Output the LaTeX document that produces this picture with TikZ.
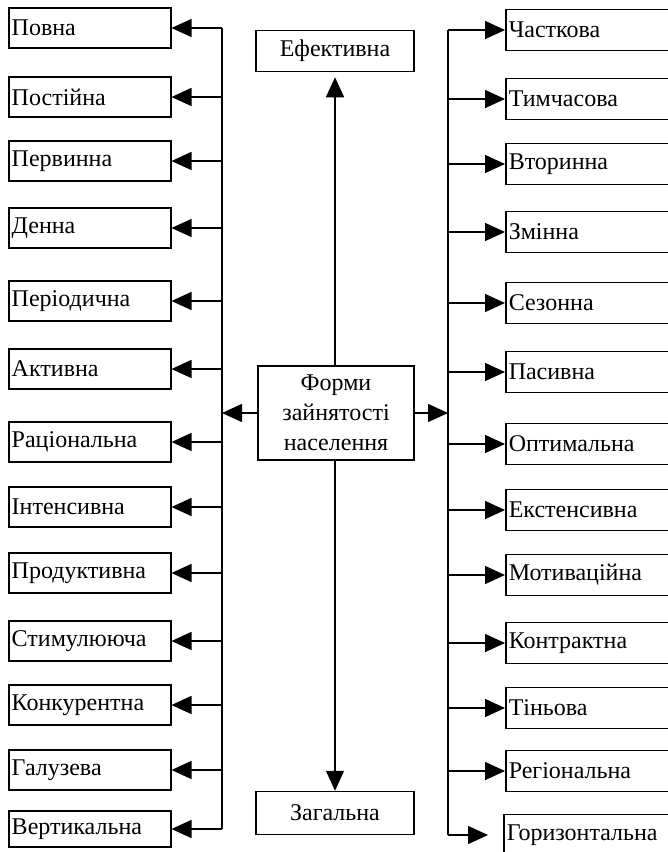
\documentclass[tikz,border=0pt]{standalone}
\usepackage{fontspec}
\setmainfont{Liberation Serif}
\usetikzlibrary{arrows.meta}
\tikzset{
  lbox/.style={draw, line width=1.5pt, anchor=west, minimum height=40pt, text width=156pt, inner xsep=3pt, align=left, font=\fontsize{24}{28}\selectfont},
  rbox/.style={draw, line width=1.5pt, anchor=west, minimum height=41pt, text width=200pt, inner xsep=3pt, align=left, font=\fontsize{24}{28}\selectfont},
  cbox/.style={draw, line width=1.5pt, minimum width=158pt, minimum height=41pt, align=center, font=\fontsize{24}{28}\selectfont},
  arr/.style={line width=1.5pt, -{Triangle[length=20pt,width=18pt]}},
  bus/.style={line width=1.5pt}
}
\begin{document}
\begin{tikzpicture}[x=1pt,y=-1pt]
\clip (0,0) rectangle (668,852);
\coordinate (lbus) at (222,0);
\coordinate (rbus) at (448,0);

\node[cbox, minimum width=156pt, minimum height=94pt, font=\fontsize{24}{30}\selectfont] (forms) at (336,413) {Форми\\зайнятості\\населення};
\node[cbox] (efekt) at (335,51) {Ефективна};
\node[cbox, minimum height=43pt] (zagal) at (335,813) {Загальна};

\node[lbox] (povna)   at (8,28)  {Повна};
\node[lbox] (postij)  at (8,97)  {Постійна};
\node[lbox] (pervyn)  at (8,161) {Первинна};
\node[lbox] (denna)   at (8,228) {Денна};
\node[lbox] (period)  at (8,301) {Періодична};
\node[lbox] (aktyv)   at (8,369) {Активна};
\node[lbox] (ratsio)  at (8,442) {Раціональна};
\node[lbox] (intens)  at (8,507) {Інтенсивна};
\node[lbox] (produk)  at (8,573) {Продуктивна};
\node[lbox] (stymul)  at (8,641) {Стимулююча};
\node[lbox] (konkur)  at (8,705) {Конкурентна};
\node[lbox] (galuz)   at (8,770) {Галузева};
\node[lbox, minimum height=36pt] (vertyk) at (8,829) {Вертикальна};

\node[rbox] (chastk)  at (505,30)  {Часткова};
\node[rbox] (tymch)   at (505,99)  {Тимчасова};
\node[rbox] (vtoryn)  at (505,164) {Вторинна};
\node[rbox] (zminna)  at (505,232) {Змінна};
\node[rbox] (sezon)   at (505,303) {Сезонна};
\node[rbox] (pasyv)   at (505,372) {Пасивна};
\node[rbox] (optym)   at (505,444) {Оптимальна};
\node[rbox] (ekst)    at (505,510) {Екстенсивна};
\node[rbox] (motyv)   at (505,575) {Мотиваційна};
\node[rbox] (kontr)   at (505,643) {Контрактна};
\node[rbox] (tinova)  at (505,708) {Тіньова};
\node[rbox] (region)  at (505,771) {Регіональна};
\node[rbox] (horyz)   at (503,835) {Горизонтальна};

\draw[arr] (forms.north -| efekt) -- ([yshift=-5pt]efekt.south);
\draw[arr] (forms.south -| zagal) -- (zagal.north);
\draw[arr] (forms.west) -- (lbus |- forms.west);
\draw[arr] (forms.east) -- (rbus |- forms.east);

\draw[bus] (lbus |- povna) -- (lbus |- vertyk);
\draw[bus] (rbus |- chastk.west) -- (rbus |- horyz.west);

\draw[arr] (lbus |- povna)  -- (povna.east);
\draw[arr] (lbus |- postij) -- (postij.east);
\draw[arr] (lbus |- pervyn) -- (pervyn.east);
\draw[arr] (lbus |- denna)  -- (denna.east);
\draw[arr] (lbus |- period) -- (period.east);
\draw[arr] (lbus |- aktyv)  -- (aktyv.east);
\draw[arr] (lbus |- ratsio) -- (ratsio.east);
\draw[arr] (lbus |- intens) -- (intens.east);
\draw[arr] (lbus |- produk) -- (produk.east);
\draw[arr] (lbus |- stymul) -- (stymul.east);
\draw[arr] (lbus |- konkur) -- (konkur.east);
\draw[arr] (lbus |- galuz)  -- (galuz.east);
\draw[arr] (lbus |- vertyk) -- (vertyk.east);

\draw[arr] (rbus |- chastk.west) -- (chastk.west);
\draw[arr] (rbus |- tymch.west)  -- (tymch.west);
\draw[arr] (rbus |- vtoryn.west) -- (vtoryn.west);
\draw[arr] (rbus |- zminna.west) -- (zminna.west);
\draw[arr] (rbus |- sezon.west)  -- (sezon.west);
\draw[arr] (rbus |- pasyv.west)  -- (pasyv.west);
\draw[arr] (rbus |- optym.west)  -- (optym.west);
\draw[arr] (rbus |- ekst.west)   -- (ekst.west);
\draw[arr] (rbus |- motyv.west)  -- (motyv.west);
\draw[arr] (rbus |- kontr.west)  -- (kontr.west);
\draw[arr] (rbus |- tinova.west) -- (tinova.west);
\draw[arr] (rbus |- region.west) -- (region.west);
\draw[arr, shorten >=15pt] (rbus |- horyz.west) -- (horyz.west);
\end{tikzpicture}
\end{document}
